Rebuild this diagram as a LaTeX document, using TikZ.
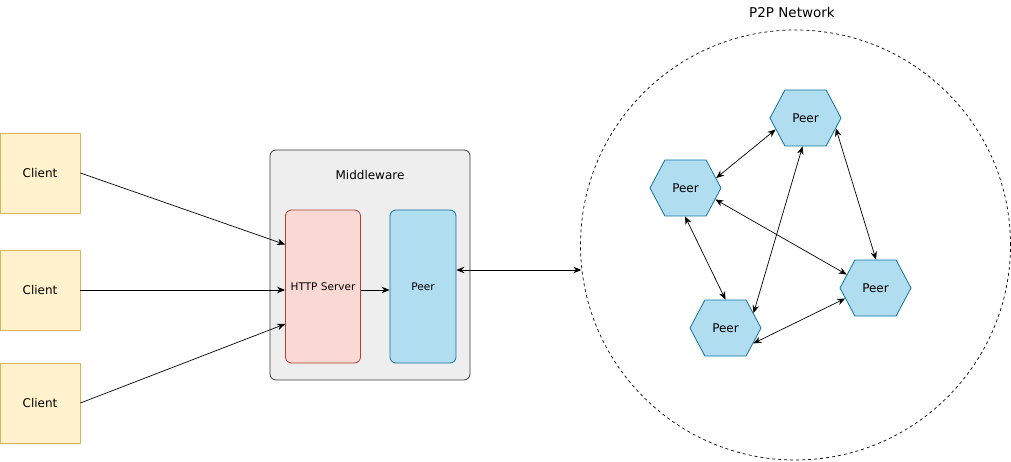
\documentclass[tikz,border=0pt]{standalone}
\usepackage{fontspec}
\setmainfont{DejaVu Sans}
\usetikzlibrary{arrows.meta,shapes.symbols}

\definecolor{clientfill}{HTML}{FFF2CC}
\definecolor{clientline}{HTML}{D6B656}
\definecolor{mwfill}{HTML}{EEEEEE}
\definecolor{mwline}{HTML}{36393D}
\definecolor{httpfill}{HTML}{FAD9D5}
\definecolor{httpline}{HTML}{AE4132}
\definecolor{peerfill}{HTML}{B1DDF0}
\definecolor{peerline}{HTML}{10739E}

\begin{document}
\begin{tikzpicture}[x=1pt,y=-1pt,line width=0.8pt,
    >={Stealth[length=8pt,width=6.5pt]}]
    \tikzstyle{every node}=[font=\fontsize{12}{14}\selectfont,inner sep=0pt]
    \tikzstyle{client}=[draw=clientline,fill=clientfill,minimum width=80pt,minimum height=80pt]
    \tikzstyle{inner}=[rounded corners=6pt,minimum width=75pt,minimum height=153pt,font=\fontsize{10.5}{12}\selectfont]
    \tikzstyle{hexpeer}=[draw=peerline,fill=peerfill,signal,signal to=east and west,
        signal pointer angle=124,minimum width=71pt,minimum height=56pt]
    \tikzstyle{link}=[<->,line width=0.7pt]
    \useasboundingbox (0,0) rectangle (1011,462);

    % Clients
    \node[client] (c1) at (40,173) {Client};
    \node[client] (c2) at (40,290) {Client};
    \node[client] (c3) at (40,403) {Client};

    % Middleware
    \node[draw=mwline,fill=mwfill,rounded corners=6pt,minimum width=200pt,minimum height=230pt] (mw) at (370,265) {};
    \node (mwlabel) at (370,175) {Middleware};
    \node[inner,draw=httpline,fill=httpfill] (http) at (323,286.5) {HTTP Server};
    \node[inner,draw=peerline,fill=peerfill,minimum width=66pt] (peer) at (423,286.5) {Peer};

    % P2P network
    \node[draw,dashed,dash pattern=on 3pt off 3pt,circle,minimum size=430pt,line width=0.7pt] (p2p) at (795.5,245) {};
    \node[font=\fontsize{13.5}{15}\selectfont] (p2plabel) at (792,12) {P2P Network};
    \node[hexpeer] (pt) at (805.5,118) {Peer};
    \node[hexpeer] (pl) at (685.5,188) {Peer};
    \node[hexpeer] (pr) at (875.5,288) {Peer};
    \node[hexpeer] (pb) at (725.5,328) {Peer};

    % Client to server
    \draw[->,line width=0.7pt] (c1.east) -- ([yshift=42pt]http.west);
    \draw[->,line width=0.7pt] (c2.east) -- (c2.east -| http.west);
    \draw[->,line width=0.7pt] (c3.east) -- ([yshift=-37.5pt]http.west);
    \draw[->,line width=0.7pt] (http.east |- c2.east) -- (peer.west |- c2.east);
    \draw[link] ([yshift=16.5pt]peer.east) -- ([yshift=16.5pt]peer.east -| p2p.186.7);

    % Peer links
    \draw[link] (pl.18.8) -- (pt.201.8);
    \draw[link] (pt.341.9) -- (pr.89);
    \draw[link] (pt.264.5) -- (pb.28.8);
    \draw[link] (pl.339.6) -- (pr.155.5);
    \draw[link] (pl.269) -- (pb.90.5);
    \draw[link] (pb.331.4) -- (pr.199.3);

\end{tikzpicture}
\end{document}
